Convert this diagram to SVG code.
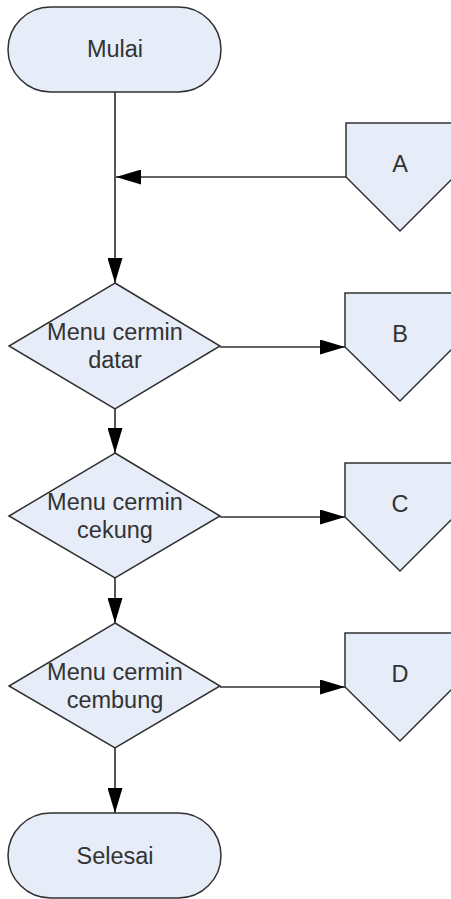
<svg xmlns="http://www.w3.org/2000/svg" width="451" height="899" viewBox="0 0 451 899">
<style>
.shape{fill:#e6ecf8;stroke:#303030;stroke-width:1.5}
.t{font-family:"Liberation Sans",Arial,sans-serif;font-size:23.5px;fill:#333;text-anchor:middle}
.c{fill:none;stroke:#303030;stroke-width:1.5}
.cv{fill:none;stroke:#555;stroke-width:2}
</style>
<defs>
<marker id="ah" viewBox="0 0 25 15" refX="25" refY="7.5" markerWidth="25" markerHeight="15" markerUnits="userSpaceOnUse" orient="auto">
<path d="M0,0 L25,7.5 L0,15 Z" fill="#000"/>
</marker>
</defs>
<rect width="451" height="899" fill="#fff"/>
<g id="connectors">
<line class="cv" x1="115" y1="92" x2="115" y2="283" marker-end="url(#ah)"/>
<line class="c" x1="346" y1="177" x2="116" y2="177" marker-end="url(#ah)"/>
<line class="c" x1="220" y1="347" x2="345" y2="347" marker-end="url(#ah)"/>
<line class="cv" x1="115" y1="409" x2="115" y2="453" marker-end="url(#ah)"/>
<line class="c" x1="220" y1="517" x2="345" y2="517" marker-end="url(#ah)"/>
<line class="cv" x1="115" y1="578" x2="115" y2="623" marker-end="url(#ah)"/>
<line class="c" x1="220" y1="687" x2="345" y2="687" marker-end="url(#ah)"/>
<line class="cv" x1="115" y1="748" x2="115" y2="813" marker-end="url(#ah)"/>
</g>
<g id="mulai">
<rect class="shape" x="8" y="7" width="213" height="85" rx="42.5" ry="42.5"/>
<text class="t" x="115" y="57">Mulai</text>
</g>
<g id="A">
<polygon class="shape" points="346,123 454,123 454,177 400,231 346,177"/>
<text class="t" x="400" y="172">A</text>
</g>
<g id="datar">
<polygon class="shape" points="115,283 220,346 115,409 9,346"/>
<text class="t" x="115" y="340">Menu cermin</text>
<text class="t" x="115" y="368">datar</text>
</g>
<g id="B">
<polygon class="shape" points="345,293 454,293 454,347 400,401 345,347"/>
<text class="t" x="400" y="342">B</text>
</g>
<g id="cekung">
<polygon class="shape" points="115,453 220,516 115,578 9,516"/>
<text class="t" x="115" y="510">Menu cermin</text>
<text class="t" x="115" y="538">cekung</text>
</g>
<g id="C">
<polygon class="shape" points="345,463 454,463 454,517 400,571 345,517"/>
<text class="t" x="400" y="512">C</text>
</g>
<g id="cembung">
<polygon class="shape" points="115,623 220,686 115,748 9,686"/>
<text class="t" x="115" y="680">Menu cermin</text>
<text class="t" x="115" y="708">cembung</text>
</g>
<g id="D">
<polygon class="shape" points="345,633 454,633 454,687 400,741 345,687"/>
<text class="t" x="400" y="682">D</text>
</g>
<g id="selesai">
<rect class="shape" x="8" y="813" width="213" height="85" rx="42.5" ry="42.5"/>
<text class="t" x="115" y="864">Selesai</text>
</g>
</svg>
